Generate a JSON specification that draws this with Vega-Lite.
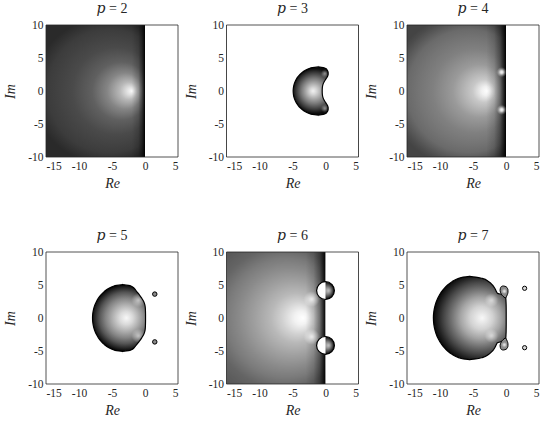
{
"$schema": "https://vega.github.io/schema/vega-lite/v6.json",
"background": "white",
"padding": {"left": 3, "top": 2, "right": 5, "bottom": 5},
"columns": 3,
"bounds": "flush",
"spacing": {"row": 95, "column": 48.5},
"config": {
  "view": {"stroke": null},
  "font": "Liberation Serif, DejaVu Serif, serif",
  "axis": {"ticks": false, "domain": false, "grid": false, "labelFont": "Liberation Serif, DejaVu Serif, serif", "labelFontSize": 11.5, "labelColor": "#262626", "titleFont": "Liberation Serif, DejaVu Serif, serif", "titleFontSize": 14, "titleFontStyle": "italic", "titleFontWeight": "normal", "titleColor": "#262626", "zindex": 1},
  "axisX": {"labelPadding": 3, "titlePadding": 5},
  "axisY": {"labelPadding": 3, "titlePadding": 10},
  "title": {"font": "Liberation Serif, DejaVu Serif, serif", "fontSize": 14, "fontWeight": "normal", "color": "#262626", "offset": 3}
},
"datasets": {
  "box": [{"x": -15, "x2": 5, "y": -10, "y2": 10}],
  "rh": [{"x": 0, "x2": 5, "y": -10, "y2": 10}],
  "b3": [
    {"y": -10, "l": -0.7, "r": -1.5},
    {"y": -3.65, "l": -1.1, "r": -1.1},
    {"y": -3.55, "l": -1.98, "r": -0.35},
    {"y": -3.4, "l": -2.48, "r": 0.05},
    {"y": -3.1, "l": -3.11, "r": 0.3},
    {"y": -2.8, "l": -3.54, "r": 0.4},
    {"y": -2.5, "l": -3.87, "r": 0.4},
    {"y": -2.2, "l": -4.13, "r": 0.3},
    {"y": -1.8, "l": -4.41, "r": 0.05},
    {"y": -1.4, "l": -4.61, "r": -0.2},
    {"y": -1.0, "l": -4.76, "r": -0.38},
    {"y": -0.5, "l": -4.86, "r": -0.48},
    {"y": 0, "l": -4.9, "r": -0.5},
    {"y": 0.5, "l": -4.86, "r": -0.48},
    {"y": 1.0, "l": -4.76, "r": -0.38},
    {"y": 1.4, "l": -4.61, "r": -0.2},
    {"y": 1.8, "l": -4.41, "r": 0.05},
    {"y": 2.2, "l": -4.13, "r": 0.3},
    {"y": 2.5, "l": -3.87, "r": 0.4},
    {"y": 2.8, "l": -3.54, "r": 0.4},
    {"y": 3.1, "l": -3.11, "r": 0.3},
    {"y": 3.4, "l": -2.48, "r": 0.05},
    {"y": 3.55, "l": -1.98, "r": -0.35},
    {"y": 3.65, "l": -1.1, "r": -1.1},
    {"y": 10, "l": -0.7, "r": -1.5}
  ],
  "b5": [
    {"y": -10, "l": -3.0, "r": -3.8},
    {"y": -5.05, "l": -3.4, "r": -3.4},
    {"y": -4.95, "l": -4.3, "r": -2.5},
    {"y": -4.8, "l": -4.81, "r": -2.05},
    {"y": -4.5, "l": -5.47, "r": -1.65},
    {"y": -4.0, "l": -6.18, "r": -1.25},
    {"y": -3.5, "l": -6.68, "r": -0.85},
    {"y": -3.0, "l": -7.06, "r": -0.5},
    {"y": -2.5, "l": -7.35, "r": -0.2},
    {"y": -2.0, "l": -7.58, "r": -0.02},
    {"y": -1.5, "l": -7.75, "r": 0.05},
    {"y": -1.0, "l": -7.86, "r": 0.07},
    {"y": -0.5, "l": -7.93, "r": 0.08},
    {"y": 0, "l": -7.95, "r": 0.08},
    {"y": 0.5, "l": -7.93, "r": 0.08},
    {"y": 1.0, "l": -7.86, "r": 0.07},
    {"y": 1.5, "l": -7.75, "r": 0.05},
    {"y": 2.0, "l": -7.58, "r": -0.02},
    {"y": 2.5, "l": -7.35, "r": -0.2},
    {"y": 3.0, "l": -7.06, "r": -0.5},
    {"y": 3.5, "l": -6.68, "r": -0.85},
    {"y": 4.0, "l": -6.18, "r": -1.25},
    {"y": 4.5, "l": -5.47, "r": -1.65},
    {"y": 4.8, "l": -4.81, "r": -2.05},
    {"y": 4.95, "l": -4.3, "r": -2.5},
    {"y": 5.05, "l": -3.4, "r": -3.4},
    {"y": 10, "l": -3.0, "r": -3.8}
  ],
  "b7": [
    {"y": -10, "l": -5.1, "r": -5.9},
    {"y": -6.3, "l": -5.5, "r": -5.5},
    {"y": -6.2, "l": -6.48, "r": -4.6},
    {"y": -6.0, "l": -7.18, "r": -3.6},
    {"y": -5.5, "l": -8.18, "r": -2.6},
    {"y": -5.0, "l": -8.85, "r": -2.05},
    {"y": -4.5, "l": -9.35, "r": -1.7},
    {"y": -4.0, "l": -9.75, "r": -1.45},
    {"y": -3.75, "l": -9.92, "r": -1.3},
    {"y": -3.55, "l": -10.04, "r": -0.6},
    {"y": -3.3, "l": -10.18, "r": -0.15},
    {"y": -3.0, "l": -10.34, "r": -0.03},
    {"y": -2.5, "l": -10.55, "r": 0.0},
    {"y": -2.0, "l": -10.72, "r": 0.02},
    {"y": -1.0, "l": -10.93, "r": 0.03},
    {"y": 0, "l": -11.0, "r": 0.03},
    {"y": 1.0, "l": -10.93, "r": 0.03},
    {"y": 2.0, "l": -10.72, "r": 0.02},
    {"y": 2.5, "l": -10.55, "r": 0.0},
    {"y": 3.0, "l": -10.34, "r": -0.03},
    {"y": 3.3, "l": -10.18, "r": -0.15},
    {"y": 3.55, "l": -10.04, "r": -0.6},
    {"y": 3.75, "l": -9.92, "r": -1.3},
    {"y": 4.0, "l": -9.75, "r": -1.45},
    {"y": 4.5, "l": -9.35, "r": -1.7},
    {"y": 5.0, "l": -8.85, "r": -2.05},
    {"y": 5.5, "l": -8.18, "r": -2.6},
    {"y": 6.0, "l": -7.18, "r": -3.6},
    {"y": 6.2, "l": -6.48, "r": -4.6},
    {"y": 6.3, "l": -5.5, "r": -5.5},
    {"y": 10, "l": -5.1, "r": -5.9}
  ],
  "ear7": [
    {"g": "u", "y": 3.05, "l": -0.15, "r": -0.02},
    {"g": "u", "y": 3.3, "l": -0.45, "r": 0.1},
    {"g": "u", "y": 3.6, "l": -0.7, "r": 0.22},
    {"g": "u", "y": 3.9, "l": -0.85, "r": 0.3},
    {"g": "u", "y": 4.2, "l": -0.9, "r": 0.3},
    {"g": "u", "y": 4.5, "l": -0.85, "r": 0.22},
    {"g": "u", "y": 4.75, "l": -0.72, "r": 0.0},
    {"g": "u", "y": 4.85, "l": -0.5, "r": -0.35},
    {"g": "d", "y": -4.85, "l": -0.5, "r": -0.35},
    {"g": "d", "y": -4.75, "l": -0.72, "r": 0.0},
    {"g": "d", "y": -4.5, "l": -0.85, "r": 0.22},
    {"g": "d", "y": -4.2, "l": -0.9, "r": 0.3},
    {"g": "d", "y": -3.9, "l": -0.85, "r": 0.3},
    {"g": "d", "y": -3.6, "l": -0.7, "r": 0.22},
    {"g": "d", "y": -3.3, "l": -0.45, "r": 0.1},
    {"g": "d", "y": -3.05, "l": -0.15, "r": -0.02}
  ],
  "hole6": [
    {"g": "u", "y": 2.8, "l": 0, "r": 0},
    {"g": "u", "y": 2.85, "l": -0.364, "r": 0},
    {"g": "u", "y": 2.95, "l": -0.618, "r": 0},
    {"g": "u", "y": 3.15, "l": -0.907, "r": 0},
    {"g": "u", "y": 3.45, "l": -1.154, "r": 0},
    {"g": "u", "y": 3.75, "l": -1.289, "r": 0},
    {"g": "u", "y": 4.15, "l": -1.35, "r": 0},
    {"g": "u", "y": 4.55, "l": -1.289, "r": 0},
    {"g": "u", "y": 4.85, "l": -1.154, "r": 0},
    {"g": "u", "y": 5.15, "l": -0.907, "r": 0},
    {"g": "u", "y": 5.35, "l": -0.618, "r": 0},
    {"g": "u", "y": 5.45, "l": -0.364, "r": 0},
    {"g": "u", "y": 5.5, "l": 0, "r": 0},
    {"g": "d", "y": -5.5, "l": 0, "r": 0},
    {"g": "d", "y": -5.45, "l": -0.364, "r": 0},
    {"g": "d", "y": -5.35, "l": -0.618, "r": 0},
    {"g": "d", "y": -5.15, "l": -0.907, "r": 0},
    {"g": "d", "y": -4.85, "l": -1.154, "r": 0},
    {"g": "d", "y": -4.55, "l": -1.289, "r": 0},
    {"g": "d", "y": -4.15, "l": -1.35, "r": 0},
    {"g": "d", "y": -3.75, "l": -1.289, "r": 0},
    {"g": "d", "y": -3.45, "l": -1.154, "r": 0},
    {"g": "d", "y": -3.15, "l": -0.907, "r": 0},
    {"g": "d", "y": -2.95, "l": -0.618, "r": 0},
    {"g": "d", "y": -2.85, "l": -0.364, "r": 0},
    {"g": "d", "y": -2.8, "l": 0, "r": 0}
  ]
},
"concat": [
  {
    "title": "𝑝 = 2", "width": 132, "height": 132,
    "layer": [
      {"data": {"name": "box"},
       "mark": {"type": "rect", "fill": {"gradient": "radial", "x1": 0.65, "y1": 0.5, "r1": 0, "x2": 0.45, "y2": 0.5, "r2": 0.55, "stops": [{"offset": 0, "color": "#fafafa"}, {"offset": 0.05, "color": "#e0e0e0"}, {"offset": 0.12, "color": "#b8b8b8"}, {"offset": 0.25, "color": "#858585"}, {"offset": 0.4, "color": "#606060"}, {"offset": 0.6, "color": "#4a4a4a"}, {"offset": 0.85, "color": "#3c3c3c"}, {"offset": 1, "color": "#2a2a2a"}]}},
       "encoding": {"x": {"field": "x", "type": "quantitative", "scale": {"domain": [-15, 5], "nice": false, "zero": false}, "axis": {"title": "Re", "values": [-15, -10, -5, 0, 5], "labelExpr": "'' + datum.value"}}, "x2": {"field": "x2"}, "y": {"field": "y", "type": "quantitative", "scale": {"domain": [-10, 10], "nice": false, "zero": false}, "axis": {"title": "Im", "values": [-10, -5, 0, 5, 10], "labelExpr": "'' + datum.value"}}, "y2": {"field": "y2"}}},
      {"data": {"values": [{"x": -2, "x2": 0, "y": -10, "y2": 10}]},
       "mark": {"type": "rect", "fill": {"gradient": "linear", "x1": 0, "y1": 0, "x2": 1, "y2": 0, "stops": [{"offset": 0, "color": "rgba(0,0,0,0)"}, {"offset": 0.5, "color": "rgba(0,0,0,0.15)"}, {"offset": 0.75, "color": "rgba(0,0,0,0.45)"}, {"offset": 0.9, "color": "rgba(0,0,0,0.75)"}, {"offset": 1, "color": "rgba(0,0,0,1)"}]}},
       "encoding": {"x": {"field": "x", "type": "quantitative", "scale": {"domain": [-15, 5], "nice": false, "zero": false}, "axis": {"title": "Re", "values": [-15, -10, -5, 0, 5], "labelExpr": "'' + datum.value"}}, "x2": {"field": "x2"}, "y": {"field": "y", "type": "quantitative", "scale": {"domain": [-10, 10], "nice": false, "zero": false}, "axis": {"title": "Im", "values": [-10, -5, 0, 5, 10], "labelExpr": "'' + datum.value"}}, "y2": {"field": "y2"}}},
      {"data": {"name": "rh"},
       "mark": {"type": "rect", "fill": "white"},
       "encoding": {"x": {"field": "x", "type": "quantitative", "scale": {"domain": [-15, 5], "nice": false, "zero": false}, "axis": {"title": "Re", "values": [-15, -10, -5, 0, 5], "labelExpr": "'' + datum.value"}}, "x2": {"field": "x2"}, "y": {"field": "y", "type": "quantitative", "scale": {"domain": [-10, 10], "nice": false, "zero": false}, "axis": {"title": "Im", "values": [-10, -5, 0, 5, 10], "labelExpr": "'' + datum.value"}}, "y2": {"field": "y2"}}},
      {"data": {"name": "box"},
       "mark": {"type": "rect", "fillOpacity": 0, "stroke": "#262626", "strokeWidth": 0.8},
       "encoding": {"x": {"field": "x", "type": "quantitative", "scale": {"domain": [-15, 5], "nice": false, "zero": false}, "axis": {"title": "Re", "values": [-15, -10, -5, 0, 5], "labelExpr": "'' + datum.value"}}, "x2": {"field": "x2"}, "y": {"field": "y", "type": "quantitative", "scale": {"domain": [-10, 10], "nice": false, "zero": false}, "axis": {"title": "Im", "values": [-10, -5, 0, 5, 10], "labelExpr": "'' + datum.value"}}, "y2": {"field": "y2"}}}
    ]
  },
  {
    "title": "𝑝 = 3", "width": 132, "height": 132,
    "layer": [
      {"data": {"name": "box"},
       "mark": {"type": "rect", "fill": {"gradient": "radial", "x1": 0.655, "y1": 0.5, "r1": 0, "x2": 0.67, "y2": 0.5, "r2": 0.17, "stops": [{"offset": 0, "color": "#f2f2f2"}, {"offset": 0.15, "color": "#d6d6d6"}, {"offset": 0.35, "color": "#a8a8a8"}, {"offset": 0.55, "color": "#7c7c7c"}, {"offset": 0.75, "color": "#4c4c4c"}, {"offset": 0.9, "color": "#262626"}, {"offset": 1, "color": "#0c0c0c"}]}},
       "encoding": {"x": {"field": "x", "type": "quantitative", "scale": {"domain": [-15, 5], "nice": false, "zero": false}, "axis": {"title": "Re", "values": [-15, -10, -5, 0, 5], "labelExpr": "'' + datum.value"}}, "x2": {"field": "x2"}, "y": {"field": "y", "type": "quantitative", "scale": {"domain": [-10, 10], "nice": false, "zero": false}, "axis": {"title": "Im", "values": [-10, -5, 0, 5, 10], "labelExpr": "'' + datum.value"}}, "y2": {"field": "y2"}}},
      {"data": {"values": [{"x": -0.1, "y": 2.65}, {"x": -0.1, "y": -2.65}]},
       "mark": {"type": "point", "shape": "circle", "filled": true, "size": 64, "opacity": 1, "strokeWidth": 0, "fill": {"gradient": "radial", "x1": 0.5, "y1": 0.5, "r1": 0, "x2": 0.5, "y2": 0.5, "r2": 0.5, "stops": [{"offset": 0, "color": "rgba(255,255,255,0.55)"}, {"offset": 0.4, "color": "rgba(255,255,255,0.3)"}, {"offset": 1, "color": "rgba(255,255,255,0)"}]}},
       "encoding": {"x": {"field": "x", "type": "quantitative", "scale": {"domain": [-15, 5], "nice": false, "zero": false}, "axis": {"title": "Re", "values": [-15, -10, -5, 0, 5], "labelExpr": "'' + datum.value"}}, "y": {"field": "y", "type": "quantitative", "scale": {"domain": [-10, 10], "nice": false, "zero": false}, "axis": {"title": "Im", "values": [-10, -5, 0, 5, 10], "labelExpr": "'' + datum.value"}}}},
      {"data": {"name": "b3"},
       "mark": {"type": "area", "orient": "horizontal", "interpolate": "monotone", "fill": "white"},
       "encoding": {"y": {"field": "y", "type": "quantitative", "scale": {"domain": [-10, 10], "nice": false, "zero": false}, "axis": {"title": "Im", "values": [-10, -5, 0, 5, 10], "labelExpr": "'' + datum.value"}}, "x": {"field": "l", "type": "quantitative", "stack": null, "scale": {"domain": [-15, 5], "nice": false, "zero": false}, "axis": {"title": "Re", "values": [-15, -10, -5, 0, 5], "labelExpr": "'' + datum.value"}}, "x2": {"datum": -15}}},
      {"data": {"name": "b3"},
       "mark": {"type": "area", "orient": "horizontal", "interpolate": "monotone", "fill": "white"},
       "encoding": {"y": {"field": "y", "type": "quantitative", "scale": {"domain": [-10, 10], "nice": false, "zero": false}, "axis": {"title": "Im", "values": [-10, -5, 0, 5, 10], "labelExpr": "'' + datum.value"}}, "x": {"field": "r", "type": "quantitative", "stack": null, "scale": {"domain": [-15, 5], "nice": false, "zero": false}, "axis": {"title": "Re", "values": [-15, -10, -5, 0, 5], "labelExpr": "'' + datum.value"}}, "x2": {"datum": 5}}},
      {"data": {"name": "b3"}, "transform": [{"filter": "abs(datum.y) < 10"}],
       "mark": {"type": "area", "orient": "horizontal", "interpolate": "monotone", "fillOpacity": 0, "stroke": "black", "strokeWidth": 1.2},
       "encoding": {"y": {"field": "y", "type": "quantitative", "scale": {"domain": [-10, 10], "nice": false, "zero": false}, "axis": {"title": "Im", "values": [-10, -5, 0, 5, 10], "labelExpr": "'' + datum.value"}}, "x": {"field": "l", "type": "quantitative", "stack": null, "scale": {"domain": [-15, 5], "nice": false, "zero": false}, "axis": {"title": "Re", "values": [-15, -10, -5, 0, 5], "labelExpr": "'' + datum.value"}}, "x2": {"field": "r"}}},
      {"data": {"name": "box"},
       "mark": {"type": "rect", "fillOpacity": 0, "stroke": "#262626", "strokeWidth": 0.8},
       "encoding": {"x": {"field": "x", "type": "quantitative", "scale": {"domain": [-15, 5], "nice": false, "zero": false}, "axis": {"title": "Re", "values": [-15, -10, -5, 0, 5], "labelExpr": "'' + datum.value"}}, "x2": {"field": "x2"}, "y": {"field": "y", "type": "quantitative", "scale": {"domain": [-10, 10], "nice": false, "zero": false}, "axis": {"title": "Im", "values": [-10, -5, 0, 5, 10], "labelExpr": "'' + datum.value"}}, "y2": {"field": "y2"}}}
    ]
  },
  {
    "title": "𝑝 = 4", "width": 132, "height": 132,
    "layer": [
      {"data": {"name": "box"},
       "mark": {"type": "rect", "fill": {"gradient": "radial", "x1": 0.61, "y1": 0.5, "r1": 0, "x2": 0.435, "y2": 0.5, "r2": 0.575, "stops": [{"offset": 0, "color": "#ffffff"}, {"offset": 0.06, "color": "#f0f0f0"}, {"offset": 0.15, "color": "#c8c8c8"}, {"offset": 0.35, "color": "#9a9a9a"}, {"offset": 0.55, "color": "#808080"}, {"offset": 0.7, "color": "#747474"}, {"offset": 0.81, "color": "#6a6a6a"}, {"offset": 0.95, "color": "#4c4c4c"}, {"offset": 1, "color": "#444444"}]}},
       "encoding": {"x": {"field": "x", "type": "quantitative", "scale": {"domain": [-15, 5], "nice": false, "zero": false}, "axis": {"title": "Re", "values": [-15, -10, -5, 0, 5], "labelExpr": "'' + datum.value"}}, "x2": {"field": "x2"}, "y": {"field": "y", "type": "quantitative", "scale": {"domain": [-10, 10], "nice": false, "zero": false}, "axis": {"title": "Im", "values": [-10, -5, 0, 5, 10], "labelExpr": "'' + datum.value"}}, "y2": {"field": "y2"}}},
      {"data": {"values": [{"x": -3, "x2": 0, "y": -10, "y2": 10}]},
       "mark": {"type": "rect", "fill": {"gradient": "linear", "x1": 0, "y1": 0, "x2": 1, "y2": 0, "stops": [{"offset": 0, "color": "rgba(0,0,0,0)"}, {"offset": 0.4, "color": "rgba(0,0,0,0.12)"}, {"offset": 0.7, "color": "rgba(0,0,0,0.4)"}, {"offset": 0.88, "color": "rgba(0,0,0,0.75)"}, {"offset": 1, "color": "rgba(0,0,0,1)"}]}},
       "encoding": {"x": {"field": "x", "type": "quantitative", "scale": {"domain": [-15, 5], "nice": false, "zero": false}, "axis": {"title": "Re", "values": [-15, -10, -5, 0, 5], "labelExpr": "'' + datum.value"}}, "x2": {"field": "x2"}, "y": {"field": "y", "type": "quantitative", "scale": {"domain": [-10, 10], "nice": false, "zero": false}, "axis": {"title": "Im", "values": [-10, -5, 0, 5, 10], "labelExpr": "'' + datum.value"}}, "y2": {"field": "y2"}}},
      {"data": {"values": [{"x": -0.65, "y": 2.85}, {"x": -0.65, "y": -2.85}]},
       "mark": {"type": "point", "shape": "circle", "filled": true, "size": 100, "opacity": 1, "strokeWidth": 0, "fill": {"gradient": "radial", "x1": 0.5, "y1": 0.5, "r1": 0, "x2": 0.5, "y2": 0.5, "r2": 0.5, "stops": [{"offset": 0, "color": "rgba(255,255,255,1)"}, {"offset": 0.3, "color": "rgba(255,255,255,0.8)"}, {"offset": 0.65, "color": "rgba(255,255,255,0.3)"}, {"offset": 1, "color": "rgba(255,255,255,0)"}]}},
       "encoding": {"x": {"field": "x", "type": "quantitative", "scale": {"domain": [-15, 5], "nice": false, "zero": false}, "axis": {"title": "Re", "values": [-15, -10, -5, 0, 5], "labelExpr": "'' + datum.value"}}, "y": {"field": "y", "type": "quantitative", "scale": {"domain": [-10, 10], "nice": false, "zero": false}, "axis": {"title": "Im", "values": [-10, -5, 0, 5, 10], "labelExpr": "'' + datum.value"}}}},
      {"data": {"name": "rh"},
       "mark": {"type": "rect", "fill": "white"},
       "encoding": {"x": {"field": "x", "type": "quantitative", "scale": {"domain": [-15, 5], "nice": false, "zero": false}, "axis": {"title": "Re", "values": [-15, -10, -5, 0, 5], "labelExpr": "'' + datum.value"}}, "x2": {"field": "x2"}, "y": {"field": "y", "type": "quantitative", "scale": {"domain": [-10, 10], "nice": false, "zero": false}, "axis": {"title": "Im", "values": [-10, -5, 0, 5, 10], "labelExpr": "'' + datum.value"}}, "y2": {"field": "y2"}}},
      {"data": {"name": "box"},
       "mark": {"type": "rect", "fillOpacity": 0, "stroke": "#262626", "strokeWidth": 0.8},
       "encoding": {"x": {"field": "x", "type": "quantitative", "scale": {"domain": [-15, 5], "nice": false, "zero": false}, "axis": {"title": "Re", "values": [-15, -10, -5, 0, 5], "labelExpr": "'' + datum.value"}}, "x2": {"field": "x2"}, "y": {"field": "y", "type": "quantitative", "scale": {"domain": [-10, 10], "nice": false, "zero": false}, "axis": {"title": "Im", "values": [-10, -5, 0, 5, 10], "labelExpr": "'' + datum.value"}}, "y2": {"field": "y2"}}}
    ]
  },
  {
    "title": "𝑝 = 5", "width": 132, "height": 132,
    "layer": [
      {"data": {"name": "box"},
       "mark": {"type": "rect", "fill": {"gradient": "radial", "x1": 0.61, "y1": 0.5, "r1": 0, "x2": 0.595, "y2": 0.5, "r2": 0.25, "stops": [{"offset": 0, "color": "#f8f8f8"}, {"offset": 0.2, "color": "#dadada"}, {"offset": 0.4, "color": "#b0b0b0"}, {"offset": 0.6, "color": "#848484"}, {"offset": 0.78, "color": "#545454"}, {"offset": 0.92, "color": "#242424"}, {"offset": 1, "color": "#080808"}]}},
       "encoding": {"x": {"field": "x", "type": "quantitative", "scale": {"domain": [-15, 5], "nice": false, "zero": false}, "axis": {"title": "Re", "values": [-15, -10, -5, 0, 5], "labelExpr": "'' + datum.value"}}, "x2": {"field": "x2"}, "y": {"field": "y", "type": "quantitative", "scale": {"domain": [-10, 10], "nice": false, "zero": false}, "axis": {"title": "Im", "values": [-10, -5, 0, 5, 10], "labelExpr": "'' + datum.value"}}, "y2": {"field": "y2"}}},
      {"data": {"values": [{"x": -1.0, "y": 2.7}, {"x": -1.0, "y": -2.7}]},
       "mark": {"type": "point", "shape": "circle", "filled": true, "size": 196, "opacity": 1, "strokeWidth": 0, "fill": {"gradient": "radial", "x1": 0.5, "y1": 0.5, "r1": 0, "x2": 0.5, "y2": 0.5, "r2": 0.5, "stops": [{"offset": 0, "color": "rgba(255,255,255,0.6)"}, {"offset": 0.4, "color": "rgba(255,255,255,0.35)"}, {"offset": 1, "color": "rgba(255,255,255,0)"}]}},
       "encoding": {"x": {"field": "x", "type": "quantitative", "scale": {"domain": [-15, 5], "nice": false, "zero": false}, "axis": {"title": "Re", "values": [-15, -10, -5, 0, 5], "labelExpr": "'' + datum.value"}}, "y": {"field": "y", "type": "quantitative", "scale": {"domain": [-10, 10], "nice": false, "zero": false}, "axis": {"title": "Im", "values": [-10, -5, 0, 5, 10], "labelExpr": "'' + datum.value"}}}},
      {"data": {"name": "b5"},
       "mark": {"type": "area", "orient": "horizontal", "interpolate": "monotone", "fill": "white"},
       "encoding": {"y": {"field": "y", "type": "quantitative", "scale": {"domain": [-10, 10], "nice": false, "zero": false}, "axis": {"title": "Im", "values": [-10, -5, 0, 5, 10], "labelExpr": "'' + datum.value"}}, "x": {"field": "l", "type": "quantitative", "stack": null, "scale": {"domain": [-15, 5], "nice": false, "zero": false}, "axis": {"title": "Re", "values": [-15, -10, -5, 0, 5], "labelExpr": "'' + datum.value"}}, "x2": {"datum": -15}}},
      {"data": {"name": "b5"},
       "mark": {"type": "area", "orient": "horizontal", "interpolate": "monotone", "fill": "white"},
       "encoding": {"y": {"field": "y", "type": "quantitative", "scale": {"domain": [-10, 10], "nice": false, "zero": false}, "axis": {"title": "Im", "values": [-10, -5, 0, 5, 10], "labelExpr": "'' + datum.value"}}, "x": {"field": "r", "type": "quantitative", "stack": null, "scale": {"domain": [-15, 5], "nice": false, "zero": false}, "axis": {"title": "Re", "values": [-15, -10, -5, 0, 5], "labelExpr": "'' + datum.value"}}, "x2": {"datum": 5}}},
      {"data": {"name": "b5"}, "transform": [{"filter": "abs(datum.y) < 10"}],
       "mark": {"type": "area", "orient": "horizontal", "interpolate": "monotone", "fillOpacity": 0, "stroke": "black", "strokeWidth": 1.2},
       "encoding": {"y": {"field": "y", "type": "quantitative", "scale": {"domain": [-10, 10], "nice": false, "zero": false}, "axis": {"title": "Im", "values": [-10, -5, 0, 5, 10], "labelExpr": "'' + datum.value"}}, "x": {"field": "l", "type": "quantitative", "stack": null, "scale": {"domain": [-15, 5], "nice": false, "zero": false}, "axis": {"title": "Re", "values": [-15, -10, -5, 0, 5], "labelExpr": "'' + datum.value"}}, "x2": {"field": "r"}}},
      {"data": {"values": [{"x": 1.48, "y": 3.62}, {"x": 1.48, "y": -3.62}]},
       "mark": {"type": "point", "shape": "circle", "filled": true, "size": 20, "opacity": 1, "fill": "#8a8a8a", "stroke": "black", "strokeWidth": 1},
       "encoding": {"x": {"field": "x", "type": "quantitative", "scale": {"domain": [-15, 5], "nice": false, "zero": false}, "axis": {"title": "Re", "values": [-15, -10, -5, 0, 5], "labelExpr": "'' + datum.value"}}, "y": {"field": "y", "type": "quantitative", "scale": {"domain": [-10, 10], "nice": false, "zero": false}, "axis": {"title": "Im", "values": [-10, -5, 0, 5, 10], "labelExpr": "'' + datum.value"}}}},
      {"data": {"name": "box"},
       "mark": {"type": "rect", "fillOpacity": 0, "stroke": "#262626", "strokeWidth": 0.8},
       "encoding": {"x": {"field": "x", "type": "quantitative", "scale": {"domain": [-15, 5], "nice": false, "zero": false}, "axis": {"title": "Re", "values": [-15, -10, -5, 0, 5], "labelExpr": "'' + datum.value"}}, "x2": {"field": "x2"}, "y": {"field": "y", "type": "quantitative", "scale": {"domain": [-10, 10], "nice": false, "zero": false}, "axis": {"title": "Im", "values": [-10, -5, 0, 5, 10], "labelExpr": "'' + datum.value"}}, "y2": {"field": "y2"}}}
    ]
  },
  {
    "title": "𝑝 = 6", "width": 132, "height": 132,
    "layer": [
      {"data": {"name": "box"},
       "mark": {"type": "rect", "fill": {"gradient": "radial", "x1": 0.58, "y1": 0.5, "r1": 0, "x2": 0.4, "y2": 0.5, "r2": 0.625, "stops": [{"offset": 0, "color": "#ffffff"}, {"offset": 0.08, "color": "#f2f2f2"}, {"offset": 0.2, "color": "#d0d0d0"}, {"offset": 0.3, "color": "#b8b8b8"}, {"offset": 0.45, "color": "#a0a0a0"}, {"offset": 0.6, "color": "#8a8a8a"}, {"offset": 0.72, "color": "#7a7a7a"}, {"offset": 0.85, "color": "#646464"}, {"offset": 1, "color": "#585858"}]}},
       "encoding": {"x": {"field": "x", "type": "quantitative", "scale": {"domain": [-15, 5], "nice": false, "zero": false}, "axis": {"title": "Re", "values": [-15, -10, -5, 0, 5], "labelExpr": "'' + datum.value"}}, "x2": {"field": "x2"}, "y": {"field": "y", "type": "quantitative", "scale": {"domain": [-10, 10], "nice": false, "zero": false}, "axis": {"title": "Im", "values": [-10, -5, 0, 5, 10], "labelExpr": "'' + datum.value"}}, "y2": {"field": "y2"}}},
      {"data": {"values": [{"x": -3, "x2": 0, "y": -10, "y2": 10}]},
       "mark": {"type": "rect", "fill": {"gradient": "linear", "x1": 0, "y1": 0, "x2": 1, "y2": 0, "stops": [{"offset": 0, "color": "rgba(0,0,0,0)"}, {"offset": 0.4, "color": "rgba(0,0,0,0.12)"}, {"offset": 0.7, "color": "rgba(0,0,0,0.4)"}, {"offset": 0.88, "color": "rgba(0,0,0,0.75)"}, {"offset": 1, "color": "rgba(0,0,0,1)"}]}},
       "encoding": {"x": {"field": "x", "type": "quantitative", "scale": {"domain": [-15, 5], "nice": false, "zero": false}, "axis": {"title": "Re", "values": [-15, -10, -5, 0, 5], "labelExpr": "'' + datum.value"}}, "x2": {"field": "x2"}, "y": {"field": "y", "type": "quantitative", "scale": {"domain": [-10, 10], "nice": false, "zero": false}, "axis": {"title": "Im", "values": [-10, -5, 0, 5, 10], "labelExpr": "'' + datum.value"}}, "y2": {"field": "y2"}}},
      {"data": {"values": [{"x": -2.1, "y": 2.85}, {"x": -2.1, "y": -2.85}]},
       "mark": {"type": "point", "shape": "circle", "filled": true, "size": 256, "opacity": 1, "strokeWidth": 0, "fill": {"gradient": "radial", "x1": 0.5, "y1": 0.5, "r1": 0, "x2": 0.5, "y2": 0.5, "r2": 0.5, "stops": [{"offset": 0, "color": "rgba(255,255,255,0.8)"}, {"offset": 0.4, "color": "rgba(255,255,255,0.45)"}, {"offset": 1, "color": "rgba(255,255,255,0)"}]}},
       "encoding": {"x": {"field": "x", "type": "quantitative", "scale": {"domain": [-15, 5], "nice": false, "zero": false}, "axis": {"title": "Re", "values": [-15, -10, -5, 0, 5], "labelExpr": "'' + datum.value"}}, "y": {"field": "y", "type": "quantitative", "scale": {"domain": [-10, 10], "nice": false, "zero": false}, "axis": {"title": "Im", "values": [-10, -5, 0, 5, 10], "labelExpr": "'' + datum.value"}}}},
      {"data": {"name": "rh"},
       "mark": {"type": "rect", "fill": "white"},
       "encoding": {"x": {"field": "x", "type": "quantitative", "scale": {"domain": [-15, 5], "nice": false, "zero": false}, "axis": {"title": "Re", "values": [-15, -10, -5, 0, 5], "labelExpr": "'' + datum.value"}}, "x2": {"field": "x2"}, "y": {"field": "y", "type": "quantitative", "scale": {"domain": [-10, 10], "nice": false, "zero": false}, "axis": {"title": "Im", "values": [-10, -5, 0, 5, 10], "labelExpr": "'' + datum.value"}}, "y2": {"field": "y2"}}},
      {"data": {"values": [{"x": 0, "y": 4.15}, {"x": 0, "y": -4.15}]},
       "mark": {"type": "point", "shape": "circle", "filled": true, "size": 317, "opacity": 1, "strokeWidth": 0, "fill": {"gradient": "radial", "x1": 0.68, "y1": 0.5, "r1": 0, "x2": 0.5, "y2": 0.5, "r2": 0.5, "stops": [{"offset": 0, "color": "#c8c8c8"}, {"offset": 0.35, "color": "#8a8a8a"}, {"offset": 0.75, "color": "#3a3a3a"}, {"offset": 1, "color": "#000000"}]}},
       "encoding": {"x": {"field": "x", "type": "quantitative", "scale": {"domain": [-15, 5], "nice": false, "zero": false}, "axis": {"title": "Re", "values": [-15, -10, -5, 0, 5], "labelExpr": "'' + datum.value"}}, "y": {"field": "y", "type": "quantitative", "scale": {"domain": [-10, 10], "nice": false, "zero": false}, "axis": {"title": "Im", "values": [-10, -5, 0, 5, 10], "labelExpr": "'' + datum.value"}}}},
      {"data": {"name": "hole6"},
       "mark": {"type": "area", "orient": "horizontal", "interpolate": "monotone", "fill": "white"},
       "encoding": {"y": {"field": "y", "type": "quantitative", "scale": {"domain": [-10, 10], "nice": false, "zero": false}, "axis": {"title": "Im", "values": [-10, -5, 0, 5, 10], "labelExpr": "'' + datum.value"}}, "x": {"field": "l", "type": "quantitative", "stack": null, "scale": {"domain": [-15, 5], "nice": false, "zero": false}, "axis": {"title": "Re", "values": [-15, -10, -5, 0, 5], "labelExpr": "'' + datum.value"}}, "x2": {"field": "r"}, "detail": {"field": "g"}}},
      {"data": {"values": [{"x": 0, "y": 4.15}, {"x": 0, "y": -4.15}]},
       "mark": {"type": "point", "shape": "circle", "filled": false, "size": 317, "opacity": 1, "stroke": "black", "strokeWidth": 1.2},
       "encoding": {"x": {"field": "x", "type": "quantitative", "scale": {"domain": [-15, 5], "nice": false, "zero": false}, "axis": {"title": "Re", "values": [-15, -10, -5, 0, 5], "labelExpr": "'' + datum.value"}}, "y": {"field": "y", "type": "quantitative", "scale": {"domain": [-10, 10], "nice": false, "zero": false}, "axis": {"title": "Im", "values": [-10, -5, 0, 5, 10], "labelExpr": "'' + datum.value"}}}},
      {"data": {"name": "box"},
       "mark": {"type": "rect", "fillOpacity": 0, "stroke": "#262626", "strokeWidth": 0.8},
       "encoding": {"x": {"field": "x", "type": "quantitative", "scale": {"domain": [-15, 5], "nice": false, "zero": false}, "axis": {"title": "Re", "values": [-15, -10, -5, 0, 5], "labelExpr": "'' + datum.value"}}, "x2": {"field": "x2"}, "y": {"field": "y", "type": "quantitative", "scale": {"domain": [-10, 10], "nice": false, "zero": false}, "axis": {"title": "Im", "values": [-10, -5, 0, 5, 10], "labelExpr": "'' + datum.value"}}, "y2": {"field": "y2"}}}
    ]
  },
  {
    "title": "𝑝 = 7", "width": 132, "height": 132,
    "layer": [
      {"data": {"name": "box"},
       "mark": {"type": "rect", "fill": {"gradient": "radial", "x1": 0.57, "y1": 0.5, "r1": 0, "x2": 0.545, "y2": 0.5, "r2": 0.345, "stops": [{"offset": 0, "color": "#f8f8f8"}, {"offset": 0.25, "color": "#d2d2d2"}, {"offset": 0.45, "color": "#a4a4a4"}, {"offset": 0.62, "color": "#747474"}, {"offset": 0.78, "color": "#484848"}, {"offset": 0.9, "color": "#242424"}, {"offset": 1, "color": "#080808"}]}},
       "encoding": {"x": {"field": "x", "type": "quantitative", "scale": {"domain": [-15, 5], "nice": false, "zero": false}, "axis": {"title": "Re", "values": [-15, -10, -5, 0, 5], "labelExpr": "'' + datum.value"}}, "x2": {"field": "x2"}, "y": {"field": "y", "type": "quantitative", "scale": {"domain": [-10, 10], "nice": false, "zero": false}, "axis": {"title": "Im", "values": [-10, -5, 0, 5, 10], "labelExpr": "'' + datum.value"}}, "y2": {"field": "y2"}}},
      {"data": {"values": [{"x": -2.2, "y": 2.7}, {"x": -2.2, "y": -2.7}]},
       "mark": {"type": "point", "shape": "circle", "filled": true, "size": 196, "opacity": 1, "strokeWidth": 0, "fill": {"gradient": "radial", "x1": 0.5, "y1": 0.5, "r1": 0, "x2": 0.5, "y2": 0.5, "r2": 0.5, "stops": [{"offset": 0, "color": "rgba(255,255,255,0.6)"}, {"offset": 0.4, "color": "rgba(255,255,255,0.35)"}, {"offset": 1, "color": "rgba(255,255,255,0)"}]}},
       "encoding": {"x": {"field": "x", "type": "quantitative", "scale": {"domain": [-15, 5], "nice": false, "zero": false}, "axis": {"title": "Re", "values": [-15, -10, -5, 0, 5], "labelExpr": "'' + datum.value"}}, "y": {"field": "y", "type": "quantitative", "scale": {"domain": [-10, 10], "nice": false, "zero": false}, "axis": {"title": "Im", "values": [-10, -5, 0, 5, 10], "labelExpr": "'' + datum.value"}}}},
      {"data": {"name": "b7"},
       "mark": {"type": "area", "orient": "horizontal", "interpolate": "monotone", "fill": "white"},
       "encoding": {"y": {"field": "y", "type": "quantitative", "scale": {"domain": [-10, 10], "nice": false, "zero": false}, "axis": {"title": "Im", "values": [-10, -5, 0, 5, 10], "labelExpr": "'' + datum.value"}}, "x": {"field": "l", "type": "quantitative", "stack": null, "scale": {"domain": [-15, 5], "nice": false, "zero": false}, "axis": {"title": "Re", "values": [-15, -10, -5, 0, 5], "labelExpr": "'' + datum.value"}}, "x2": {"datum": -15}}},
      {"data": {"name": "b7"},
       "mark": {"type": "area", "orient": "horizontal", "interpolate": "monotone", "fill": "white"},
       "encoding": {"y": {"field": "y", "type": "quantitative", "scale": {"domain": [-10, 10], "nice": false, "zero": false}, "axis": {"title": "Im", "values": [-10, -5, 0, 5, 10], "labelExpr": "'' + datum.value"}}, "x": {"field": "r", "type": "quantitative", "stack": null, "scale": {"domain": [-15, 5], "nice": false, "zero": false}, "axis": {"title": "Re", "values": [-15, -10, -5, 0, 5], "labelExpr": "'' + datum.value"}}, "x2": {"datum": 5}}},
      {"data": {"name": "b7"}, "transform": [{"filter": "abs(datum.y) < 10"}],
       "mark": {"type": "area", "orient": "horizontal", "interpolate": "monotone", "fillOpacity": 0, "stroke": "black", "strokeWidth": 1.2},
       "encoding": {"y": {"field": "y", "type": "quantitative", "scale": {"domain": [-10, 10], "nice": false, "zero": false}, "axis": {"title": "Im", "values": [-10, -5, 0, 5, 10], "labelExpr": "'' + datum.value"}}, "x": {"field": "l", "type": "quantitative", "stack": null, "scale": {"domain": [-15, 5], "nice": false, "zero": false}, "axis": {"title": "Re", "values": [-15, -10, -5, 0, 5], "labelExpr": "'' + datum.value"}}, "x2": {"field": "r"}}},
      {"data": {"name": "ear7"},
       "mark": {"type": "area", "orient": "horizontal", "interpolate": "monotone", "fill": "#8a8a8a", "stroke": "black", "strokeWidth": 1},
       "encoding": {"y": {"field": "y", "type": "quantitative", "scale": {"domain": [-10, 10], "nice": false, "zero": false}, "axis": {"title": "Im", "values": [-10, -5, 0, 5, 10], "labelExpr": "'' + datum.value"}}, "x": {"field": "l", "type": "quantitative", "stack": null, "scale": {"domain": [-15, 5], "nice": false, "zero": false}, "axis": {"title": "Re", "values": [-15, -10, -5, 0, 5], "labelExpr": "'' + datum.value"}}, "x2": {"field": "r"}, "detail": {"field": "g"}}},
      {"data": {"values": [{"x": -0.25, "y": 4.05}, {"x": -0.25, "y": -4.05}]},
       "mark": {"type": "point", "shape": "circle", "filled": true, "size": 30, "opacity": 1, "strokeWidth": 0, "fill": {"gradient": "radial", "x1": 0.5, "y1": 0.5, "r1": 0, "x2": 0.5, "y2": 0.5, "r2": 0.5, "stops": [{"offset": 0, "color": "rgba(255,255,255,0.95)"}, {"offset": 0.5, "color": "rgba(255,255,255,0.5)"}, {"offset": 1, "color": "rgba(255,255,255,0)"}]}},
       "encoding": {"x": {"field": "x", "type": "quantitative", "scale": {"domain": [-15, 5], "nice": false, "zero": false}, "axis": {"title": "Re", "values": [-15, -10, -5, 0, 5], "labelExpr": "'' + datum.value"}}, "y": {"field": "y", "type": "quantitative", "scale": {"domain": [-10, 10], "nice": false, "zero": false}, "axis": {"title": "Im", "values": [-10, -5, 0, 5, 10], "labelExpr": "'' + datum.value"}}}},
      {"data": {"values": [{"x": 2.82, "y": 4.5}, {"x": 2.82, "y": -4.5}]},
       "mark": {"type": "point", "shape": "circle", "filled": true, "size": 18, "opacity": 1, "fill": "#d8d8d8", "stroke": "black", "strokeWidth": 1},
       "encoding": {"x": {"field": "x", "type": "quantitative", "scale": {"domain": [-15, 5], "nice": false, "zero": false}, "axis": {"title": "Re", "values": [-15, -10, -5, 0, 5], "labelExpr": "'' + datum.value"}}, "y": {"field": "y", "type": "quantitative", "scale": {"domain": [-10, 10], "nice": false, "zero": false}, "axis": {"title": "Im", "values": [-10, -5, 0, 5, 10], "labelExpr": "'' + datum.value"}}}},
      {"data": {"name": "box"},
       "mark": {"type": "rect", "fillOpacity": 0, "stroke": "#262626", "strokeWidth": 0.8},
       "encoding": {"x": {"field": "x", "type": "quantitative", "scale": {"domain": [-15, 5], "nice": false, "zero": false}, "axis": {"title": "Re", "values": [-15, -10, -5, 0, 5], "labelExpr": "'' + datum.value"}}, "x2": {"field": "x2"}, "y": {"field": "y", "type": "quantitative", "scale": {"domain": [-10, 10], "nice": false, "zero": false}, "axis": {"title": "Im", "values": [-10, -5, 0, 5, 10], "labelExpr": "'' + datum.value"}}, "y2": {"field": "y2"}}}
    ]
  }
]
}
